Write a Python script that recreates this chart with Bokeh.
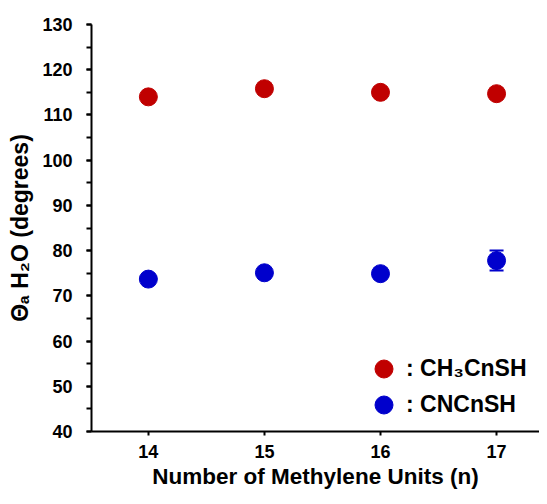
from bokeh.plotting import figure
from bokeh.models import (Range1d, FixedTicker, SingleIntervalTicker, Whisker,
                          ColumnDataSource, Legend, LegendItem)
from bokeh.embed import file_html
from bokeh.resources import INLINE

# ---- data ----
n_units = [14, 15, 16, 17]
ch3_vals = [114.0, 115.8, 115.0, 114.7]
ch3_err = [0.5, 0.6, 0.5, 0.6]
cn_vals = [73.7, 75.1, 74.9, 77.8]
cn_err = [0.6, 0.8, 0.9, 2.2]
x_ticks = [14, 15, 16, 17]

RED = "#C00000"
BLUE = "#0000CC"
FONT = "Liberation Sans"

p = figure(width=539, height=496,
           x_range=Range1d(13.51, 17.37), y_range=Range1d(40, 130),
           output_backend="svg", toolbar_location=None,
           min_border_left=91, min_border_right=0,
           min_border_top=24, min_border_bottom=65)
p.outline_line_color = None
p.grid.visible = False
p.background_fill_color = "white"
p.border_fill_color = "white"

src_ch3 = ColumnDataSource(dict(x=n_units, y=ch3_vals,
                                lo=[v - e for v, e in zip(ch3_vals, ch3_err)],
                                hi=[v + e for v, e in zip(ch3_vals, ch3_err)]))
src_cn = ColumnDataSource(dict(x=n_units, y=cn_vals,
                               lo=[v - e for v, e in zip(cn_vals, cn_err)],
                               hi=[v + e for v, e in zip(cn_vals, cn_err)]))

for src, col in ((src_ch3, RED), (src_cn, BLUE)):
    w = Whisker(source=src, base="x", lower="lo", upper="hi",
                line_color=col, line_width=2, level="underlay")
    w.upper_head.line_color = col
    w.lower_head.line_color = col
    w.upper_head.line_width = 2
    w.lower_head.line_width = 2
    w.upper_head.size = 14
    w.lower_head.size = 14
    p.add_layout(w)

r1 = p.scatter("x", "y", source=src_ch3, size=18, fill_color=RED, line_color=RED)
r2 = p.scatter("x", "y", source=src_cn, size=18, fill_color=BLUE, line_color=BLUE)

# axes
xa = p.xaxis[0]
xa.ticker = FixedTicker(ticks=x_ticks, minor_ticks=[])
ya = p.yaxis[0]
ya.ticker = SingleIntervalTicker(interval=10, num_minor_ticks=2)

for ax in (xa, ya):
    ax.axis_line_color = "black"
    ax.axis_line_width = 2
    ax.major_tick_line_color = "black"
    ax.major_tick_line_width = 2
    ax.minor_tick_line_color = "black"
    ax.minor_tick_line_width = 2
    ax.major_tick_in = 0
    ax.minor_tick_in = 0
    ax.major_label_text_font = FONT
    ax.major_label_text_font_style = "bold"
    ax.major_label_text_font_size = "18px"
    ax.major_label_text_color = "black"
    ax.axis_label_text_font = FONT
    ax.axis_label_text_font_style = "bold"
    ax.axis_label_text_color = "black"

xa.major_tick_out = 4
xa.major_label_standoff = 9
xa.axis_label = "Number of Methylene Units (n)"
xa.axis_label_text_font_size = "22.5px"
xa.axis_label_standoff = 3

ya.major_tick_out = 5
ya.minor_tick_out = 5
ya.major_label_standoff = 14
ya.axis_label = "Θₐ H₂O (degrees)"
ya.axis_label_text_font_size = "23px"
ya.axis_label_standoff = 6

legend_style = dict(orientation="vertical", padding=0, margin=0, spacing=0,
                    glyph_width=45, glyph_height=45, label_standoff=0,
                    border_line_color=None, background_fill_alpha=0,
                    label_text_font=FONT, label_text_font_style="bold",
                    label_text_font_size="23px", label_text_color="black")
leg1 = Legend(items=[LegendItem(label=": CH₃CnSH", renderers=[r1])],
              location=(270, 40), **legend_style)
leg2 = Legend(items=[LegendItem(label=": CNCnSH", renderers=[r2])],
              location=(270, 4), **legend_style)
p.add_layout(leg1)
p.add_layout(leg2)

open("out.html", "w").write(file_html(p, INLINE))
